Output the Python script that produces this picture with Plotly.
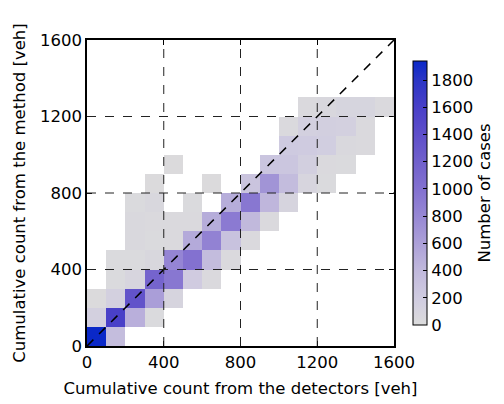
import plotly.graph_objects as go

# bin centres (100 veh bins)
bin_centers = [50 + 100 * i for i in range(16)]
tick_vals = [0, 400, 800, 1200, 1600]
grid_vals = [400, 800, 1200]
cbar_ticks = [0, 200, 400, 600, 800, 1000, 1200, 1400, 1600, 1800]

# number of cases per bin: rows = method bins (bottom to top), cols = detector bins
row_00 = [1940, 350, 0, 0, 0, 0, 0, 0, 0, 0, 0, 0, 0, 0, 0, 0]
row_01 = [150, 1600, 480, 30, 0, 0, 0, 0, 0, 0, 0, 0, 0, 0, 0, 0]
row_02 = [20, 150, 1350, 620, 100, 0, 0, 0, 0, 0, 0, 0, 0, 0, 0, 0]
row_03 = [0, 30, 80, 1150, 950, 200, 40, 0, 0, 0, 0, 0, 0, 0, 0, 0]
row_04 = [0, 30, 30, 60, 820, 1000, 370, 40, 0, 0, 0, 0, 0, 0, 0, 0]
row_05 = [0, 0, 50, 30, 40, 520, 850, 300, 40, 0, 0, 0, 0, 0, 0, 0]
row_06 = [0, 0, 50, 40, 40, 40, 500, 920, 400, 40, 0, 0, 0, 0, 0, 0]
row_07 = [0, 0, 30, 60, 0, 30, 0, 500, 950, 420, 100, 0, 0, 0, 0, 0]
row_08 = [0, 0, 0, 20, 0, 0, 20, 0, 280, 700, 370, 80, 30, 0, 0, 0]
row_09 = [0, 0, 0, 0, 20, 0, 0, 0, 0, 270, 260, 160, 40, 30, 0, 0]
row_10 = [0, 0, 0, 0, 0, 0, 0, 0, 0, 0, 220, 210, 170, 50, 40, 0]
row_11 = [0, 0, 0, 0, 0, 0, 0, 0, 0, 0, 40, 140, 160, 140, 40, 0]
row_12 = [0, 0, 0, 0, 0, 0, 0, 0, 0, 0, 0, 40, 60, 90, 90, 40]
row_13 = [0] * 16
row_14 = [0] * 16
row_15 = [0] * 16

rows = [row_00, row_01, row_02, row_03, row_04, row_05, row_06, row_07,
        row_08, row_09, row_10, row_11, row_12, row_13, row_14, row_15]
z = [[(v if v > 0 else None) for v in r] for r in rows]

colorscale = [
    [0.00, "#dcdcdc"],
    [0.10, "#d0cce0"],
    [0.21, "#c0b8dc"],
    [0.31, "#aca0d8"],
    [0.41, "#9788d4"],
    [0.52, "#8270d0"],
    [0.62, "#7060cc"],
    [0.72, "#5e4fca"],
    [0.82, "#4a40c8"],
    [0.93, "#2a35c5"],
    [1.00, "#0a28c8"],
]

FONT = "DejaVu Sans"
FS = 16.5

fig = go.Figure()
fig.add_trace(go.Heatmap(
    x=bin_centers, y=bin_centers, z=z,
    zmin=0, zmax=1940,
    colorscale=colorscale,
    xgap=0, ygap=0,
    hoverongaps=False,
    colorbar=dict(
        thickness=14, thicknessmode="pixels",
        len=264, lenmode="pixels",
        x=1.062, xanchor="left", xpad=0,
        y=0.5, yanchor="middle", ypad=0,
        outlinewidth=1, outlinecolor="black",
        tickmode="array", tickvals=cbar_ticks,
        ticks="inside", ticklen=4, tickcolor="black",
        tickfont=dict(family=FONT, size=FS, color="black"),
        title=dict(text="Number of cases", side="right",
                   font=dict(family=FONT, size=FS, color="black")),
    ),
))

# identity line
fig.add_trace(go.Scatter(
    x=[tick_vals[0], tick_vals[-1]], y=[tick_vals[0], tick_vals[-1]],
    mode="lines", line=dict(color="black", width=1.5, dash="9px,8px"),
    showlegend=False, hoverinfo="skip",
))

# dashed grid drawn above the cells
shapes = []
for g in grid_vals:
    shapes.append(dict(type="line", xref="x", yref="y", x0=g, x1=g,
                       y0=tick_vals[0], y1=tick_vals[-1], layer="above",
                       line=dict(color="#222222", width=1, dash="9px,9px")))
    shapes.append(dict(type="line", xref="x", yref="y", y0=g, y1=g,
                       x0=tick_vals[0], x1=tick_vals[-1], layer="above",
                       line=dict(color="#222222", width=1, dash="9px,9px")))

axis_common = dict(
    range=[tick_vals[0], tick_vals[-1]],
    tickmode="array", tickvals=tick_vals,
    ticks="inside", ticklen=5, tickwidth=1, tickcolor="black",
    showline=True, linecolor="black", linewidth=1.5, mirror="ticks",
    showgrid=False, zeroline=False, automargin=False,
    tickfont=dict(family=FONT, size=FS, color="black"),
)

# page body adds an 8px offset, so the figure is drawn 8px smaller
fig.update_layout(
    width=496, height=396,
    margin=dict(l=79, r=110, t=32, b=58, autoexpand=False),
    paper_bgcolor="white", plot_bgcolor="white",
    shapes=shapes,
    showlegend=False,
    xaxis=dict(**axis_common,
               title=dict(text="Cumulative count from the detectors [veh]",
                          font=dict(family=FONT, size=FS, color="black"),
                          standoff=12)),
    yaxis=dict(**axis_common,
               title=dict(text="Cumulative count from the method [veh]",
                          font=dict(family=FONT, size=FS, color="black"),
                          standoff=10)),
)

fig.write_html("out.html")
